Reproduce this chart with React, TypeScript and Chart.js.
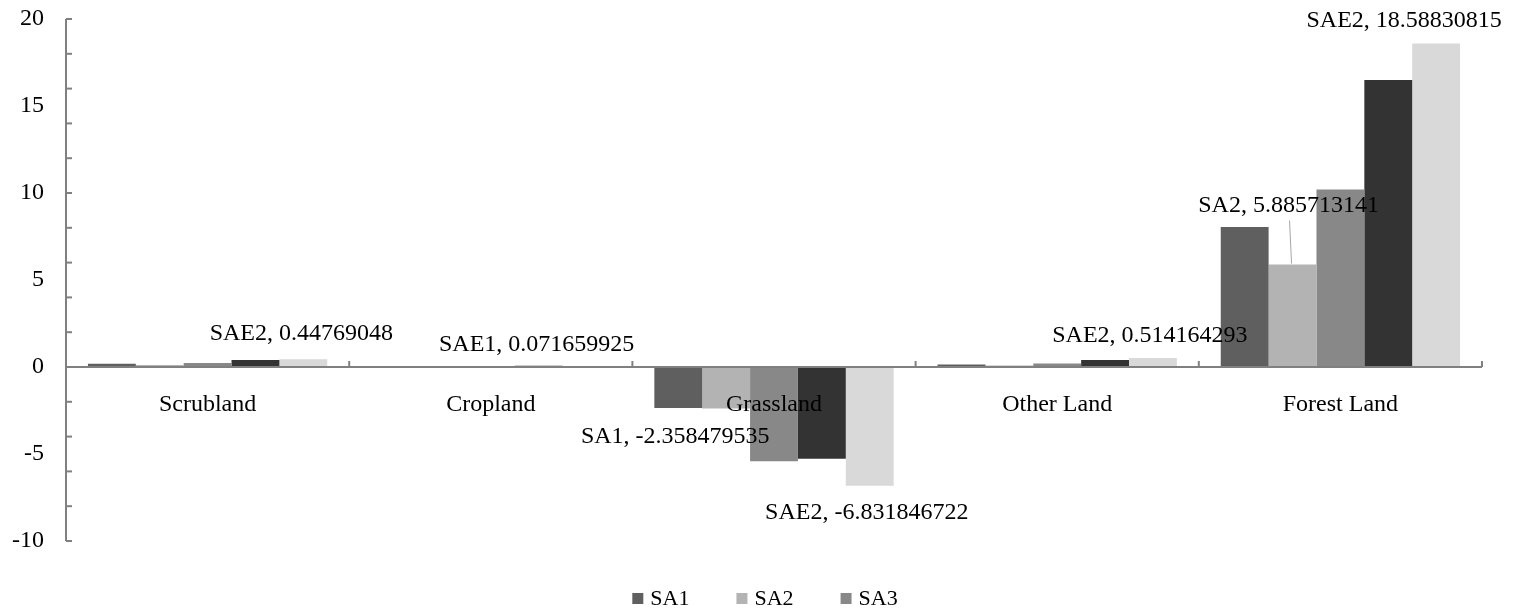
import React, { useEffect, useRef } from "react";
import { Chart, registerables } from "chart.js";

Chart.register(...registerables);

// ---- data ----
const categories = ["Scrubland", "Cropland", "Grassland", "Other Land", "Forest Land"];
const seriesNames = ["SA1", "SA2", "SA3", "SAE1", "SAE2"];
const sa1Values = [0.19, 0.03, -2.358479535, 0.15, 8.05];
const sa2Values = [0.12, 0.01, -2.39, 0.08, 5.885713141];
const sa3Values = [0.23, 0.04, -5.42, 0.2, 10.2];
const sae1Values = [0.4, 0.071659925, -5.27, 0.4, 16.5];
const sae2Values = [0.44769048, 0.02, -6.831846722, 0.514164293, 18.58830815];
const seriesColors = ["#5f5f5f", "#b3b3b3", "#888888", "#333333", "#d9d9d9"];
const legendSeries = ["SA1", "SA2", "SA3"];
const yMin = -10;
const yMax = 20;
const yLabelStep = 5;
const yMinorStep = 2;

// data labels: which bar, and offset of label (dx, baseline dy from bar end)
const dataLabels = [
  { series: 4, category: 0, dx: -2, dy: -19, leader: false },
  { series: 3, category: 1, dx: -2, dy: -15, leader: false },
  { series: 0, category: 2, dx: -3, dy: 35, leader: false },
  { series: 4, category: 2, dx: -3, dy: 33, leader: false },
  { series: 4, category: 3, dx: -3, dy: -16, leader: false },
  { series: 1, category: 4, dx: -4, dy: -53, leader: true },
  { series: 4, category: 4, dx: -32, dy: -17, leader: false },
];

const FONT = "'Liberation Serif', 'Times New Roman', serif";
const FONT_SIZE = 24;
const LEGEND_FONT_SIZE = 22;
const AXIS_COLOR = "#808080";

const allValues = [sa1Values, sa2Values, sa3Values, sae1Values, sae2Values];

const overlayPlugin = {
  id: "overlay",
  afterDatasetsDraw(chart: any) {
    const ctx = chart.ctx;
    const area = chart.chartArea;
    const xs = chart.scales.x;
    const ys = chart.scales.y;
    const y0 = ys.getPixelForValue(0);
    ctx.save();
    ctx.strokeStyle = AXIS_COLOR;
    ctx.lineWidth = 2;
    ctx.beginPath();
    ctx.moveTo(area.left, ys.getPixelForValue(yMax));
    ctx.lineTo(area.left, ys.getPixelForValue(yMin));
    ctx.stroke();
    for (let v = yMin; v <= yMax; v += yMinorStep) {
      const py = ys.getPixelForValue(v);
      ctx.beginPath();
      ctx.moveTo(area.left, py);
      ctx.lineTo(area.left + 6, py);
      ctx.stroke();
    }
    ctx.beginPath();
    ctx.moveTo(area.left, y0);
    ctx.lineTo(area.right, y0);
    ctx.stroke();
    for (let i = 0; i <= categories.length; i++) {
      const px = xs.getPixelForValue(i - 0.5);
      ctx.beginPath();
      ctx.moveTo(px, y0);
      ctx.lineTo(px, y0 - 6);
      ctx.stroke();
    }
    ctx.restore();
  },
  afterDraw(chart: any) {
    const ctx = chart.ctx;
    ctx.save();
    ctx.font = `${FONT_SIZE}px ${FONT}`;
    ctx.fillStyle = "#000";
    ctx.textAlign = "center";
    ctx.textBaseline = "alphabetic";
    dataLabels.forEach((lbl) => {
      const meta = chart.getDatasetMeta(lbl.series);
      const el = meta.data[lbl.category];
      const value = allValues[lbl.series][lbl.category];
      const text = `${seriesNames[lbl.series]}, ${value}`;
      const tx = el.x + lbl.dx;
      const ty = el.y + lbl.dy;
      if (lbl.leader) {
        ctx.save();
        ctx.strokeStyle = "#a6a6a6";
        ctx.lineWidth = 1;
        ctx.beginPath();
        ctx.moveTo(tx + 1, ty + 9);
        ctx.lineTo(el.x - 1, el.y - 1);
        ctx.stroke();
        ctx.restore();
      }
      ctx.fillText(text, tx, ty);
    });

    // legend
    ctx.font = `${LEGEND_FONT_SIZE}px ${FONT}`;
    const items = chart.data.datasets.filter((d: any) => legendSeries.includes(d.label));
    ctx.textAlign = "left";
    const box = 11;
    const gap = 7;
    const spacing = 47;
    let total = 0;
    const widths = items.map((d: any) => ctx.measureText(d.label).width);
    widths.forEach((w: number, i: number) => {
      total += box + gap + w + (i < widths.length - 1 ? spacing : 0);
    });
    let x = chart.width / 2 + 8 - total / 2;
    const baseline = 605;
    items.forEach((d: any, i: number) => {
      ctx.fillStyle = d.backgroundColor;
      ctx.fillRect(x, baseline - 12, box, box);
      ctx.fillStyle = "#000";
      ctx.fillText(d.label, x + box + gap, baseline);
      x += box + gap + widths[i] + spacing;
    });
    ctx.restore();
  },
};

export default function App() {
  const canvasRef = useRef<HTMLCanvasElement | null>(null);

  useEffect(() => {
    document.body.style.margin = "0";
    const canvas = canvasRef.current;
    if (!canvas) return;
    const chart = new Chart(canvas, {
      type: "bar",
      data: {
        labels: categories,
        datasets: seriesNames.map((name, i) => ({
          label: name,
          data: allValues[i],
          backgroundColor: seriesColors[i],
          borderWidth: 0,
          categoryPercentage: 0.845,
          barPercentage: 1,
        })),
      },
      options: {
        responsive: false,
        animation: false,
        devicePixelRatio: 1,
        layout: { padding: { top: 19, right: 32, bottom: 71, left: 0 } },
        plugins: {
          legend: { display: false },
          tooltip: { enabled: false },
        },
        scales: {
          x: {
            type: "category",
            position: { y: 0 } as any,
            z: 1,
            grid: { display: false, drawTicks: false },
            border: { display: false },
            ticks: {
              z: 1,
              color: "#000",
              font: { family: FONT, size: FONT_SIZE },
              padding: 23,
              maxRotation: 0,
              autoSkip: false,
            },
          },
          y: {
            min: yMin,
            max: yMax,
            grid: { display: false, drawTicks: false },
            border: { display: false },
            ticks: {
              stepSize: yLabelStep,
              color: "#000",
              font: { family: FONT, size: FONT_SIZE },
              padding: 22,
            },
            afterFit: (s: any) => {
              s.width = 66;
              s.paddingTop = 0;
              s.paddingBottom = 0;
            },
          },
        },
      },
      plugins: [overlayPlugin],
    });
    return () => chart.destroy();
  }, []);

  return (
    <div style={{ width: 1514, height: 612 }}>
      <canvas ref={canvasRef} width={1514} height={612} />
    </div>
  );
}
